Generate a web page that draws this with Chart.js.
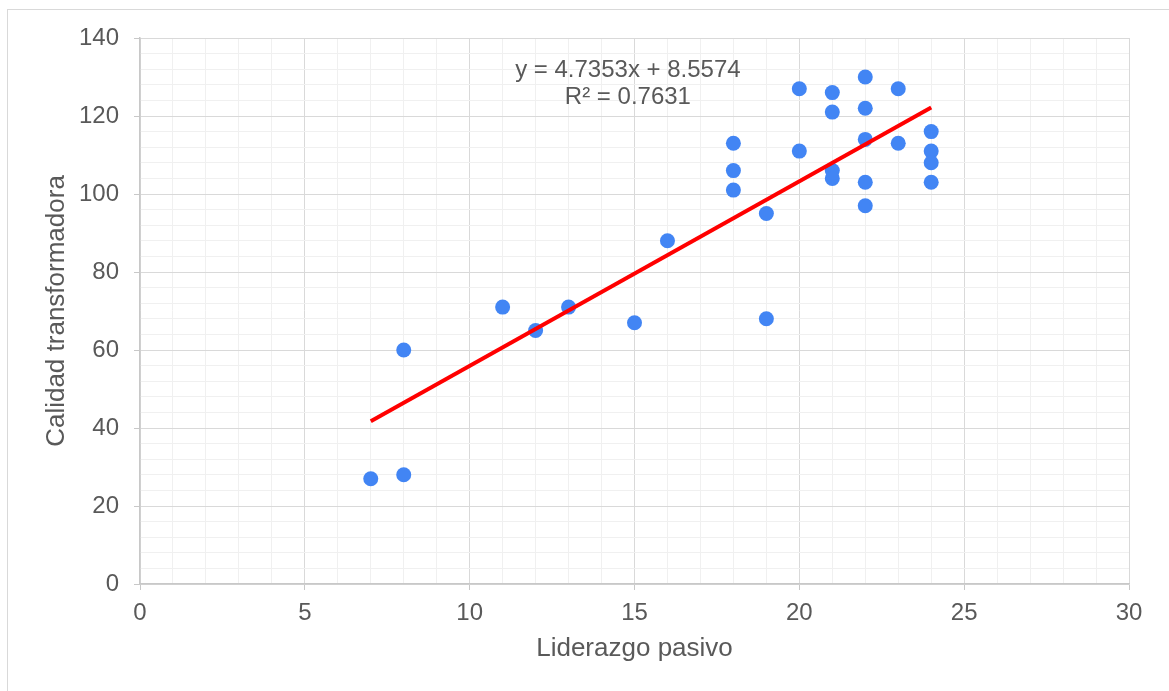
<!DOCTYPE html>
<html lang="es">
  <head>
    <meta charset="UTF-8" />
    <title>Liderazgo pasivo vs Calidad transformadora</title>
    <script src="https://cdn.jsdelivr.net/npm/chart.js@4.4.0/dist/chart.umd.min.js"></script>
    <style>
      body {
        margin: 0;
        background: white;
        overflow: hidden;
      }
      .frame {
        position: absolute;
        left: 7px;
        top: 9px;
        width: 1200px;
        height: 720px;
        border-top: 1px solid #d9d9d9;
        border-left: 1px solid #d9d9d9;
      }
      #myChart {
        position: absolute;
        left: 0;
        top: 0;
      }
    </style>
  </head>
  <body>
    <div class="frame"></div>
    <canvas id="myChart" width="1169" height="691"></canvas>

    <script>
      // datos
      const liderazgo = [7, 8, 8, 11, 12, 13, 15, 16, 18, 18, 18, 19, 19, 20, 20,
        21, 21, 21, 21, 22, 22, 22, 22, 22, 23, 23, 24, 24, 24, 24];
      const calidad = [27, 28, 60, 71, 65, 71, 67, 88, 113, 106, 101, 95, 68, 127, 111,
        126, 121, 106, 104, 130, 122, 114, 103, 97, 127, 113, 116, 111, 108, 103];

      // linea de tendencia (Excel)
      const pendiente = 4.7353;
      const intercepto = 8.5574;
      const tendenciaX = [7, 24];
      const ecuacion = ["y = 4.7353x + 8.5574", "R² = 0.7631"];

      const xTicks = [0, 5, 10, 15, 20, 25, 30];
      const yTicks = [0, 20, 40, 60, 80, 100, 120, 140];

      const puntos = liderazgo.map((x, i) => ({ x: x, y: calidad[i] }));
      const tendencia = tendenciaX.map(x => ({ x: x, y: pendiente * x + intercepto }));

      Chart.defaults.font.family = "'Liberation Sans', Arial, sans-serif";
      Chart.defaults.color = "#595959";

      const gray = "#595959";

      const etiquetaEcuacion = {
        id: "etiquetaEcuacion",
        afterDatasetsDraw(chart) {
          const c = chart.ctx;
          const x = chart.scales.x.getPixelForValue(14.8);
          const y = chart.scales.y.getPixelForValue(130);
          c.save();
          c.fillStyle = gray;
          c.font = "24px 'Liberation Sans', Arial, sans-serif";
          c.textAlign = "center";
          c.textBaseline = "alphabetic";
          c.fillText(ecuacion[0], x, y);
          c.fillText(ecuacion[1], x, y + 26.5);
          c.restore();
        },
      };

      const gridColor = (ticks, major) => ctx =>
        ticks.includes(ctx.tick.value) ? major : "#f0f0f0";
      const tickColor = ticks => ctx =>
        ticks.includes(ctx.tick.value) ? "#c8c8c8" : "rgba(0,0,0,0)";

      const ctx = document.getElementById("myChart").getContext("2d");
      const myChart = new Chart(ctx, {
        type: "scatter",
        data: {
          datasets: [
            {
              label: "Calidad transformadora",
              data: puntos,
              backgroundColor: "#4285f4",
              borderWidth: 0,
              pointRadius: 7.5,
              order: 2,
            },
            {
              type: "line",
              label: "Tendencia",
              data: tendencia,
              borderColor: "#ff0000",
              borderWidth: 4,
              pointRadius: 0,
              fill: false,
              order: 1,
            },
          ],
        },
        options: {
          responsive: false,
          animation: false,
          layout: {
            padding: { top: 38, right: 40, left: 0, bottom: 0 },
          },
          scales: {
            x: {
              type: "linear",
              min: 0,
              max: 30,
              afterFit: s => { s.height = 107; },
              ticks: {
                stepSize: 1,
                autoSkip: false,
                maxRotation: 0,
                padding: 9,
                font: { size: 24 },
                color: gray,
                callback: v => (xTicks.includes(v) ? v : ""),
              },
              grid: {
                color: gridColor(xTicks, "#d9d9d9"),
                tickColor: tickColor(xTicks),
                tickLength: 6,
              },
              border: { color: "#c8c8c8", width: 1.5 },
              title: {
                display: true,
                text: "Liderazgo pasivo",
                font: { size: 26 },
                color: gray,
                padding: { top: 0, bottom: 27 },
              },
            },
            y: {
              min: 0,
              max: 140,
              afterFit: s => { s.width = 140; },
              ticks: {
                stepSize: 4,
                autoSkip: false,
                padding: 15,
                font: { size: 24 },
                color: gray,
                callback: v => (yTicks.includes(v) ? v : ""),
              },
              grid: {
                color: gridColor(yTicks, "#d9d9d9"),
                tickColor: tickColor(yTicks),
                tickLength: 6,
              },
              border: { color: "#c8c8c8", width: 1.5 },
              title: {
                display: true,
                text: "Calidad transformadora",
                font: { size: 26 },
                color: gray,
                padding: { top: 41, bottom: 0 },
              },
            },
          },
          plugins: {
            legend: { display: false },
            tooltip: { enabled: false },
          },
        },
        plugins: [etiquetaEcuacion],
      });
    </script>
  </body>
</html>
